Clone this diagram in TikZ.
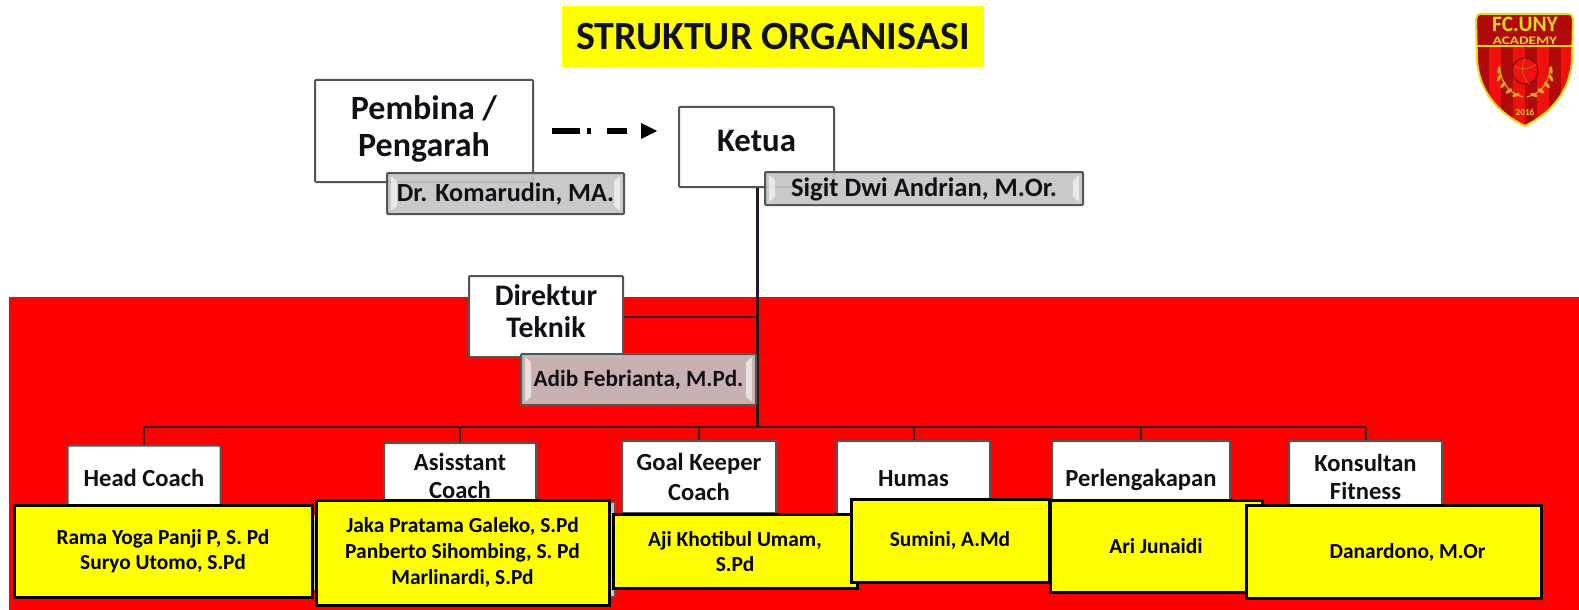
\documentclass[tikz,border=0pt]{standalone}
\usepackage{fontspec}
\setmainfont{Carlito}
\definecolor{linedark}{HTML}{3A2020}
\definecolor{boxline}{HTML}{555555}
\definecolor{inkdark}{HTML}{101018}
\definecolor{barfill}{HTML}{C4C4C4}
\definecolor{logoDark}{HTML}{B00A0A}
\definecolor{logoRed}{HTML}{F01010}
\definecolor{logoGold}{HTML}{E8D820}
\definecolor{pureyellow}{HTML}{FFFF00}
\definecolor{purered}{HTML}{FF0000}
\tikzset{
  x=0.5pt,y=-0.5pt,
  whitebox/.style={draw=boxline,line width=1pt,fill=white,rounded corners=0.5pt,inner sep=0pt,align=center,text=inkdark},
  bigtext/.style={font=\fontsize{17}{18.5}\selectfont\bfseries},
  midtext/.style={font=\fontsize{14.9}{16}\selectfont\bfseries},
  smalltext/.style={font=\fontsize{12.3}{14}\selectfont\bfseries},
  namebar/.style={draw=boxline,line width=1pt,fill=barfill,fill opacity=.9,text opacity=1,rounded corners=0.5pt,inner sep=0pt,
    font=\fontsize{13.1}{14}\selectfont\bfseries,text=inkdark,
    path picture={
      \fill[white,opacity=.6] ([shift={(2pt,1.5pt)}]path picture bounding box.south west) -- ([shift={(5pt,4pt)}]path picture bounding box.south west) -- ([shift={(5pt,-4pt)}]path picture bounding box.north west) -- ([shift={(2pt,-1.5pt)}]path picture bounding box.north west) -- cycle;
      \fill[white,opacity=.6] ([shift={(-2pt,1.5pt)}]path picture bounding box.south east) -- ([shift={(-5pt,4pt)}]path picture bounding box.south east) -- ([shift={(-5pt,-4pt)}]path picture bounding box.north east) -- ([shift={(-2pt,-1.5pt)}]path picture bounding box.north east) -- cycle;
    }},
  yellowbox/.style={draw=black,line width=1.5pt,fill=pureyellow,inner sep=0pt,align=center,text=black,
    font=\fontsize{10.7}{12.8}\selectfont\bfseries},
  hidbar/.style={draw=boxline,line width=.6pt,fill=barfill},
  trunkline/.style={draw=linedark!70!black,line width=1.5pt},
  busline/.style={draw=linedark,line width=1pt},
  titlebox/.style={fill=pureyellow,inner sep=0pt,font=\fontsize{20}{22}\selectfont\bfseries,text=inkdark},
  leaf/.style={fill=logoGold!80!logoDark,draw=none},
}
\begin{document}
\begin{tikzpicture}
\useasboundingbox (0,0) rectangle (1579,610);
\fill[white] (0,0) rectangle (1579,610);
\fill[purered] (9,297) rectangle (1579,610);
% title
\node[titlebox,minimum width=211pt,minimum height=30.5pt] (title) at (773,36.5) {STRUKTUR ORGANISASI};
% upper boxes
\node[whitebox,bigtext,minimum width=109pt,minimum height=51pt,text depth=5pt] (pembina) at (424,131) {Pembina /\\Pengarah};
\node[whitebox,font=\fontsize{16.4}{18}\selectfont\bfseries,minimum width=77.5pt,minimum height=40pt,text depth=6pt] (ketua) at (756.5,147) {Ketua};
% connectors
\coordinate (arrowstart) at (552,131);
\coordinate (arrowend) at (657,131);
\draw[line width=2.8pt,black,dash pattern=on 14pt off 3.5pt on 2pt off 8pt on 10pt off 7pt] (arrowstart) -- ([xshift=-8pt]arrowend);
\fill[black] (arrowend) -- ++(-16,-8) -- ++(0,16) -- cycle;
\coordinate (trunkend) at (757,427);
\draw[busline] (trunkend) -- (144,427) coordinate (busleft);
\draw[busline] (trunkend) -- (1366,427) coordinate (busright);
% Direktur
\node[whitebox,midtext,minimum width=77pt,minimum height=40.5pt,text depth=5.5pt] (direktur) at (546,316.5) {Direktur\\Teknik};
\draw[busline] (direktur.east) -- (direktur.east -| trunkend);
\draw[trunkline] (ketua.south -| trunkend) -- (trunkend);
% row of roles
\node[whitebox,smalltext,minimum width=76.5pt,minimum height=32pt] (head) at (144,477.5) {Head Coach};
\node[whitebox,smalltext,minimum width=76pt,minimum height=33pt] (asst) at (460,476) {Asisstant\\Coach};
\node[whitebox,smalltext,minimum width=77pt,minimum height=36pt] (gk) at (699,477) {Goal Keeper\\[1pt]Coach};
\node[whitebox,smalltext,minimum width=76.5pt,minimum height=38pt] (humas) at (913.5,479) {Humas};
\node[whitebox,smalltext,minimum width=89pt,minimum height=39pt] (perl) at (1141,480) {Perlengakapan};
\node[whitebox,smalltext,minimum width=76.5pt,minimum height=36pt] (kons) at (1365.5,477) {Konsultan\\Fitness};
\foreach \n in {head,asst,gk,humas,perl,kons}{
  \draw[busline] (\n.north) -- (\n.north |- trunkend);
}
% grey bars behind yellow
\fill[barfill] (312,515) rectangle (318,590);
\draw[hidbar] (606,502) rectangle (615,597);
% name bars
\node[namebar,minimum width=118.5pt,minimum height=20.5pt,text depth=1pt] (komar) at (505.5,193.5) {Dr. Komarudin, MA.};
\node[namebar,font=\fontsize{13.3}{14}\selectfont\bfseries,minimum width=159pt,minimum height=16.5pt,text depth=1.5pt] (sigit) at (924,188.5) {Sigit Dwi Andrian, M.Or.};
\node[namebar,minimum width=117.5pt,minimum height=25.5pt,font=\fontsize{11.6}{14}\selectfont\bfseries] (adib) at (638.5,379.5) {Adib Febrianta, M.Pd.};
% yellow boxes
\node[yellowbox,minimum width=149pt,minimum height=46pt] (y1) at (163,551) {Rama Yoga Panji P, S. Pd\\Suryo Utomo, S.Pd};
\node[yellowbox,minimum width=146.5pt,minimum height=52.5pt] (y2) at (462.5,552.5) {Jaka Pratama Galeko, S.Pd\\Panberto Sihombing, S. Pd\\Marlinardi, S.Pd};
\node[yellowbox,minimum width=122pt,minimum height=37pt] (y3) at (735,551.5) {Aji Khotibul Umam,\\S.Pd};
\node[yellowbox,minimum width=99pt,minimum height=41.5pt] (y4) at (950,540.5) {Sumini, A.Md};
\node[yellowbox,minimum width=106pt,minimum height=46pt] (y5) at (1156,546) {Ari Junaidi};
\node[yellowbox,minimum width=147.5pt,minimum height=46.5pt] (y6) at (1393.5,552) {\hspace*{14pt}Danardono, M.Or};
% logo
\begin{scope}[shift={(1,0)}]
\def\shieldpath{(1480,14) -- (1567,14) .. controls (1571,14) and (1572,17) .. (1572,20) -- (1571,60) .. controls (1569,90) and (1552,112) .. (1524,126) .. controls (1495,112) and (1478,90) .. (1476,60) -- (1475,20) .. controls (1475,17) and (1476,14) .. (1480,14) -- cycle}
\begin{scope}
\clip \shieldpath;
\fill[logoRed] (1470,10) rectangle (1575,130);
\foreach \sx in {1476,1500,1524,1548}{\fill[logoDark] (\sx,45) rectangle +(12,85);}
\fill[logoDark] (1470,10) rectangle (1575,46);
\fill[logoGold] (1470,45.5) rectangle (1575,47.5);
\end{scope}
\draw[logoGold,line width=1pt] \shieldpath;
\node[inner sep=0pt,text=logoGold,font=\fontsize{11}{11}\selectfont\bfseries] (fcuny) at (1524,24) {\scalebox{.97}[1]{FC.UNY}};
\node[inner sep=0pt,text=logoGold,font=\fontsize{6.4}{6.4}\selectfont\bfseries] (academy) at (1524,41) {\scalebox{1.18}[.9]{ACADEMY}};
\node[inner sep=0pt,text=logoGold,font=\fontsize{4.6}{5}\selectfont\bfseries] (year) at (1524,112) {2016};
\draw[logoDark!70!black,fill=logoRed,line width=.5pt] (1524,71) circle (13);
\draw[logoGold!50!logoDark,line width=.3pt] (1513,66) .. controls (1520,70) and (1528,70) .. (1535,64) (1524,58) .. controls (1520,68) and (1520,76) .. (1528,84);
\draw[logoGold!80!logoDark,line width=.6pt] (1499,70) .. controls (1501,85) and (1510,94) .. (1522,97);
\draw[logoGold!80!logoDark,line width=.6pt] (1549,70) .. controls (1547,85) and (1538,94) .. (1526,97);
\foreach \lx/\ly/\la in {1498/70/80,1498/78/65,1502/85/50,1508/91/35,1515/95/20}{
  \fill[leaf] (\lx,\ly) ellipse[x radius=2pt,y radius=.8pt,rotate=\la];}
\foreach \lx/\ly/\la in {1550/70/-80,1550/78/-65,1546/85/-50,1540/91/-35,1533/95/-20}{
  \fill[leaf] (\lx,\ly) ellipse[x radius=2pt,y radius=.8pt,rotate=\la];}
\end{scope}
\end{tikzpicture}
\end{document}
